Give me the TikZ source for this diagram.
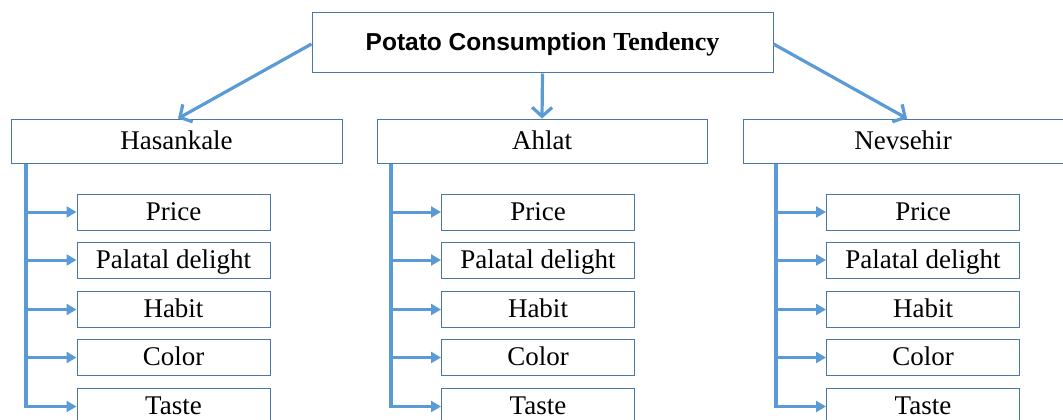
\documentclass[tikz,border=0pt]{standalone}
\usepackage{fontspec}
\setmainfont{Liberation Serif}
\newfontfamily\titlesans{Liberation Sans}
\newfontfamily\titleserif{Liberation Serif}
\usetikzlibrary{arrows.meta}
\definecolor{lineblue}{RGB}{91,155,213}
\definecolor{boxblue}{RGB}{75,118,170}
\tikzset{
  box/.style={draw=boxblue, line width=1pt, fill=white, inner sep=0pt, text height=20pt, text depth=4pt, font=\fontsize{27}{30}\selectfont},
  titlebox/.style={box, minimum width=461pt, minimum height=60pt},
  groupbox/.style={box, minimum height=44pt},
  itembox/.style={box, minimum width=193pt, minimum height=36pt},
  toparrow/.style={draw=lineblue, line width=3.2pt, -{Straight Barb[length=9pt, width=20pt, line width=3.2pt]}},
  branch/.style={draw=lineblue, line width=3pt, -{Triangle[length=10pt, width=11pt]}},
  vline/.style={draw=lineblue, line width=3.3pt},
}
\begin{document}
\begin{tikzpicture}[x=1pt, y=-1pt]
\useasboundingbox (0,0) rectangle (1063,420);
\node[titlebox] (title) at (542.5,43) {{\titlesans\bfseries\fontsize{24.5}{28}\selectfont Potato Consumption} {\titleserif\bfseries\fontsize{26}{30}\selectfont Tendency}};
\node[groupbox, minimum width=331pt] (g1) at (176.5,141) {Hasankale};
\node[groupbox, minimum width=330pt] (g2) at (542,141) {Ahlat};
\node[groupbox, minimum width=320pt] (g3) at (903,141) {Nevsehir};
\foreach \c/\x in {1/173.5, 2/538, 3/923} {
  \node[itembox] (c\c-1) at (\x,212) {Price};
  \node[itembox] (c\c-2) at (\x,260) {Palatal delight};
  \node[itembox] (c\c-3) at (\x,309.5) {Habit};
  \node[itembox] (c\c-4) at (\x,357.5) {Color};
  \node[itembox] (c\c-5) at (\x,406.5) {Taste};
}
\draw[toparrow] ([yshift=-1pt]title.west) -- ([xshift=1.5pt]g1.north);
\draw[toparrow] (title.south) -- (g2.north);
\draw[toparrow] ([yshift=-1pt]title.east) -- ([xshift=4pt]g3.north);
\coordinate (v1) at (26,163);
\coordinate (v2) at (391,163);
\coordinate (v3) at (776,163);
\foreach \c in {1,2,3} {
  \draw[vline] (v\c |- g\c.south) -- ([yshift=1.5pt]v\c |- c\c-5.west);
  \foreach \i in {1,...,5} {
    \draw[branch] ([xshift=-1.6pt]v\c |- c\c-\i.west) -- (c\c-\i.west);
  }
}
\end{tikzpicture}
\end{document}
